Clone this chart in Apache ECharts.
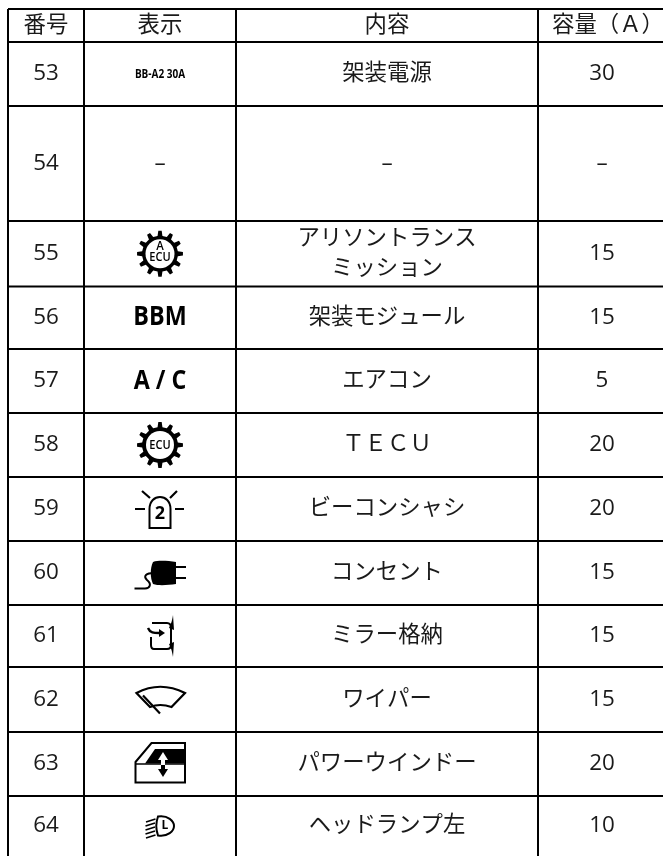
<!DOCTYPE html>
<html>
<head>
<meta charset="utf-8">
<style>
  html, body { margin: 0; padding: 0; background: #fff; }
  #main { width: 663px; height: 856px; }
</style>
<script src="https://cdn.jsdelivr.net/npm/echarts@6/dist/echarts.min.js"></script>
</head>
<body>
<div id="main"></div>
<script>
const headers = ['番号', '表示', '内容', '容量（Ａ）'];
const numbers = ['53', '54', '55', '56', '57', '58', '59', '60', '61', '62', '63', '64'];
const contents = ['架装電源', '–', 'アリソントランス\nミッション', '架装モジュール', 'エアコン', 'ＴＥＣＵ', 'ビーコンシャシ', 'コンセント', 'ミラー格納', 'ワイパー', 'パワーウインドー', 'ヘッドランプ左'];
const capacities = ['30', '–', '15', '15', '5', '20', '20', '15', '15', '15', '20', '10'];
const displays = ['BB-A2 30A', '–', 'gearA', 'BBM', 'A / C', 'gear', 'beacon', 'plug', 'mirror', 'wiper', 'window', 'lamp'];

// table layout, in page pixels
const columnLines = [8, 84, 236, 538];
const rowLines = [9, 42, 106, 221, 286.5, 349, 413, 477, 541, 605, 667, 732, 796];
const tableEnd = { x: 663, y: 856 };
const columnCentres = [46, 160, 387, 602];
const headerCentres = [46, 160, 387, 608];

const FONT = '"Open Sans", "Noto Sans CJK JP", sans-serif';
const black = '#000';
const ink = '#1a1a1a';

function gearPath(r1, r2, teeth) {
  // outer outline of the gear, around 0,0
  let d = '';
  const step = Math.PI * 2 / teeth;
  for (let i = 0; i < teeth; i++) {
    const a = i * step - Math.PI / 2;
    const pts = [[r1, a - step * 0.26], [r2, a - step * 0.14], [r2, a + step * 0.14], [r1, a + step * 0.26]];
    pts.forEach((p, j) => {
      const x = (p[0] * Math.cos(p[1])).toFixed(2);
      const y = (p[0] * Math.sin(p[1])).toFixed(2);
      d += (i === 0 && j === 0 ? 'M' : 'L') + x + ' ' + y;
    });
  }
  return d + 'Z';
}

function fillPath(d, fill) {
  return { type: 'path', shape: { pathData: d }, style: { fill: fill || black, stroke: null } };
}
function strokePath(d, w) {
  return { type: 'path', shape: { pathData: d }, style: { fill: null, stroke: black, lineWidth: w || 2 } };
}
function iconText(x, y, text, size, weight, family, scaleX) {
  return {
    type: 'text', x: x, y: y, scaleX: scaleX || 1,
    style: { text: text, font: (weight || 'bold') + ' ' + size + 'px ' + (family || FONT), fill: black, align: 'center', verticalAlign: 'middle' }
  };
}

// icons are drawn around the cell centre
const icons = {
  gearA: () => [
    fillPath(gearPath(18, 23, 12)),
    { type: 'circle', shape: { cx: 0, cy: 0, r: 14.5 }, style: { fill: '#fff' } },
    iconText(0, -7, 'A', 12, '600', FONT, 0.95),
    iconText(0, 4, 'ECU', 13, '600', FONT, 0.85)
  ],
  gear: () => [
    fillPath(gearPath(18, 23, 12)),
    { type: 'circle', shape: { cx: 0, cy: 0, r: 14 }, style: { fill: '#fff' } },
    iconText(0, 0, 'ECU', 13, '600', FONT, 0.85)
  ],
  beacon: () => [
    strokePath('M-10.5 19 L-10.5 0 C-10.5 -16 10.5 -16 10.5 0 L10.5 19 Z', 2),
    strokePath('M-25 0 L-15 0 M15 0 L24 0 M-18 -18 L-10 -11 M17 -18 L10 -11', 2.2),
    iconText(0, 5, '2', 18, 'bold')
  ],
  plug: () => [
    fillPath('M-7 -11 C-1 -13 8 -12 16 -11 L16 11 C8 12 -1 13 -7 11 C-10 5 -10 -5 -7 -11 Z'),
    strokePath('M16 -6 L26 -6 M16 5 L26 5', 2.2),
    strokePath('M-25.5 15.5 L-15 15.5 C-10 15.5 -8 11 -13 7 C-17 3 -14 0 -6 0', 2)
  ],
  mirror: () => [
    strokePath('M-8 -13 L7 -13 C10 -13 11 -11 11 -8 L11 9 C11 12 10 13 7 13 L-6 13 C-8 13 -9 12 -9 9 L-9 1', 2),
    strokePath('M-12 -8 C-10 -3 -6 -3 -1 -3', 2.4),
    fillPath('M-1 -7 L5 -3 L-1 1 Z'),
    fillPath('M13 -21 L14 -6 L9 -8 C10.5 -11 12 -14 13 -21 Z'),
    fillPath('M13 21 L14 6 L9 8 C10.5 11 12 14 13 21 Z')
  ],
  wiper: () => [
    strokePath('M-23.5 -6.5 Q0 -19 25 -6.5 L11.5 7.5 Q0 3.5 -10 7.5 Z', 2.2),
    strokePath('M-17 -4 L0 14', 2.2)
  ],
  window: () => [
    strokePath('M-24.5 -2 L-8.5 -21 L25 -21 L25 18.5 L-24.5 18.5 Z', 2),
    fillPath('M-15 -0.5 L-5 -15 L24 -15 L24 -0.5 Z'),
    strokePath('M-24 0 L25 0', 1.5),
    fillPath('M3 -12 L8 -4 L5 -4 L5 1 L1 1 L1 -4 L-2 -4 Z', '#fff'),
    fillPath('M1 1 L5 1 L5 5 L8 5 L3 13 L-2 5 L1 5 Z')
  ],
  lamp: () => [
    strokePath('M-2 -9.5 C8 -11 14 -5 14 0 C14 5 8 11 -2 9.5 C-4 4 -4 -4 -2 -9.5 Z', 2),
    iconText(5, 0, 'L', 12, 'bold'),
    strokePath('M-14 -4 L-4.5 -7 M-14.5 0 L-5 -3 M-14.5 4 L-5 1 M-14.5 8 L-5 5 M-14 12 L-4.5 9', 1.6)
  ]
};

// one item per line of the table: [x0, y0, x1, y1]
const lineItems = [];
columnLines.forEach(x => lineItems.push([x, rowLines[0], x, tableEnd.y]));
rowLines.forEach(y => lineItems.push([columnLines[0], y, tableEnd.x, y]));

// one item per text cell: [x, y, text]
const textItems = [];
function rowCentre(i) { return (rowLines[i] + rowLines[i + 1]) / 2; }
headers.forEach((h, c) => textItems.push([headerCentres[c], (rowLines[0] + rowLines[1]) / 2, h]));
numbers.forEach((n, i) => {
  const y = i < 11 ? rowCentre(i + 1) : (rowLines[12] + tableEnd.y) / 2;
  textItems.push([columnCentres[0], y, n]);
  textItems.push([columnCentres[2], y, contents[i]]);
  textItems.push([columnCentres[3], y, capacities[i]]);
});

// one item per "表示" cell: [x, y, index]
const displayItems = displays.map((d, i) => [columnCentres[1], i < 11 ? rowCentre(i + 1) : (rowLines[12] + tableEnd.y) / 2, i]);

const chart = echarts.init(document.getElementById('main'));
chart.setOption({
  animation: false,
  grid: { left: 0, right: 0, top: 0, bottom: 0 },
  xAxis: { type: 'value', min: 0, max: tableEnd.x, show: false },
  yAxis: { type: 'value', min: 0, max: tableEnd.y, inverse: true, show: false },
  series: [
    {
      type: 'custom',
      coordinateSystem: 'cartesian2d',
      encode: { x: [0, 2], y: [1, 3] },
      silent: true,
      clip: false,
      data: lineItems,
      renderItem: (params, api) => {
        const a = api.coord([api.value(0), api.value(1)]);
        const b = api.coord([api.value(2), api.value(3)]);
        return { type: 'line', shape: { x1: a[0], y1: a[1], x2: b[0], y2: b[1] }, style: { stroke: black, lineWidth: 2 } };
      }
    },
    {
      type: 'custom',
      coordinateSystem: 'cartesian2d',
      encode: { x: 0, y: 1 },
      silent: true,
      data: textItems,
      renderItem: (params, api) => {
        const p = api.coord([api.value(0), api.value(1)]);
        const t = textItems[params.dataIndex][2];
        return {
          type: 'text', x: p[0], y: p[1],
          style: { text: t, font: '22.4px ' + FONT, lineHeight: 30, fill: ink, align: 'center', verticalAlign: 'middle' }
        };
      }
    },
    {
      type: 'custom',
      coordinateSystem: 'cartesian2d',
      encode: { x: 0, y: 1 },
      silent: true,
      data: displayItems,
      renderItem: (params, api) => {
        const p = api.coord([api.value(0), api.value(1)]);
        const d = displays[params.dataIndex];
        let children;
        if (icons[d]) {
          children = icons[d]();
        } else if (d === 'BB-A2 30A') {
          children = [iconText(0, 0, d, 12.5, 'bold', FONT, 0.8)];
        } else if (d === 'BBM' || d === 'A / C') {
          children = [iconText(0, 0, d, 26.5, 'bold', FONT, 0.88)];
        } else {
          children = [{ type: 'text', style: { text: d, font: '22.4px ' + FONT, fill: ink, align: 'center', verticalAlign: 'middle' } }];
        }
        return { type: 'group', x: p[0], y: p[1], children: children };
      }
    }
  ]
});
</script>
</body>
</html>
